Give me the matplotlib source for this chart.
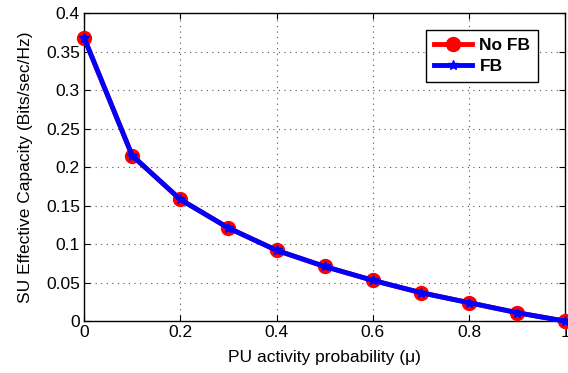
import numpy as np
import matplotlib
matplotlib.use('Agg')
import matplotlib.pyplot as plt
from matplotlib.ticker import FuncFormatter

plt.rcParams['font.family'] = ['Liberation Sans', 'DejaVu Sans']

mu = [0.0, 0.1, 0.2, 0.3, 0.4, 0.5, 0.6, 0.7, 0.8, 0.9, 1.0]
cap_nofb = [0.368, 0.215, 0.158, 0.121, 0.092, 0.071, 0.053, 0.037, 0.024, 0.011, 0.0]
cap_fb = [0.368, 0.215, 0.158, 0.121, 0.092, 0.071, 0.053, 0.037, 0.024, 0.011, 0.0]

fig = plt.figure(figsize=(5.68, 3.73), dpi=100)
ax = fig.add_axes([0.148, 0.139, 0.847, 0.826])

ax.plot(mu, cap_nofb, color='red', lw=3.5, marker='o', ms=10,
        mfc='red', mec='red', label='No FB', clip_on=False, zorder=3)
ax.plot(mu, cap_fb, color='blue', lw=3.5, marker='*', ms=7,
        mfc='blue', mec='blue', label='FB', clip_on=False, zorder=4)

ax.set_xlim(0, 1)
ax.set_ylim(0, 0.4)
ax.set_xticks(np.arange(0, 1.01, 0.2))
ax.set_yticks(np.arange(0, 0.401, 0.05))
fmt = FuncFormatter(lambda v, p: '%g' % round(v, 2))
ax.xaxis.set_major_formatter(fmt)
ax.yaxis.set_major_formatter(fmt)
ax.tick_params(direction='in', length=4, labelsize=12.5, top=True, right=True, pad=3)
ax.grid(True, linestyle=(0, (1, 4)), color='#555555', lw=0.8)
for s in ax.spines.values():
    s.set_linewidth(1.0)

ax.set_xlabel('PU activity probability (\u03bc)', fontsize=12.5, labelpad=7)
ax.set_ylabel('SU Effective Capacity (Bits/sec/Hz)', fontsize=12.5, labelpad=9)

leg = ax.legend(loc='upper right', bbox_to_anchor=(0.944, 0.945), borderaxespad=0,
                fancybox=False, edgecolor='black', framealpha=1,
                prop={'weight': 'bold', 'size': 12.5},
                handlelength=2.2, handletextpad=0.4, borderpad=0.45, labelspacing=0.35)
leg.get_frame().set_linewidth(1.0)

fig.savefig('out.png', dpi=100)
